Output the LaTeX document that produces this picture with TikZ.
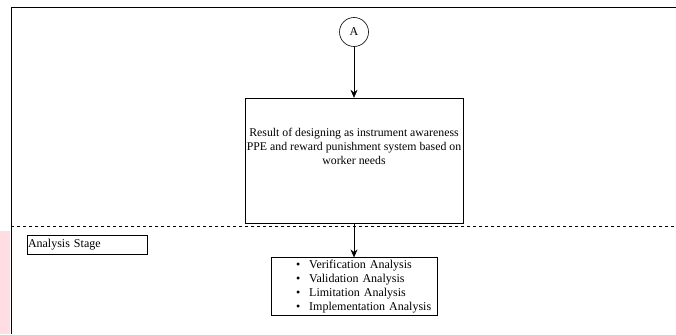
\documentclass[tikz,border=0pt]{standalone}
\usepackage{fontspec}
\setmainfont{Liberation Serif}
\usetikzlibrary{positioning,arrows.meta}
\definecolor{sidepink}{RGB}{255,221,226}
\tikzset{
  stagebox/.style={draw, rectangle, semithick, inner sep=0pt},
  flow/.style={-{Stealth[length=8pt,width=7pt]}, semithick},
}
\begin{document}
\begin{tikzpicture}[x=1pt, y=-1pt, font=\fontsize{12}{14}\selectfont, node distance=34pt]
   \useasboundingbox (0,0) rectangle (676,334);
   \fill[sidepink] (0,231) rectangle (10,334);
   \draw[thick] (11,334) -- (11,7) -- (676,7);
   \draw[dashed] (11,226) -- (676,226);
   \node[circle, draw, semithick, minimum size=29pt, inner sep=0pt] (A) at (354,32) {A};
   \node[stagebox, minimum width=218pt, minimum height=125pt, align=center, font=\fontsize{11.8}{14}\selectfont] (result) [below=51pt of A]
     {Result of designing as instrument awareness\\PPE and reward punishment system based on\\worker needs\\[15pt]~};
   \node[stagebox, text width=166pt, minimum height=58pt, align=left] (analysis) [below=of result]
     {\hspace*{25pt}\begin{tabular}{@{}l@{\hspace{9pt}}l@{}}
       \textbullet & Verification Analysis\\
       \textbullet & Validation Analysis\\
       \textbullet & Limitation Analysis\\
       \textbullet & Implementation Analysis
     \end{tabular}};
   \node[stagebox, minimum width=120pt, minimum height=19pt, text width=118pt, align=left] (stage) at (87,244.5) {Analysis Stage};
   \draw[flow] (A) -- (result);
   \draw[flow] (result) -- (analysis);
\end{tikzpicture}
\end{document}
